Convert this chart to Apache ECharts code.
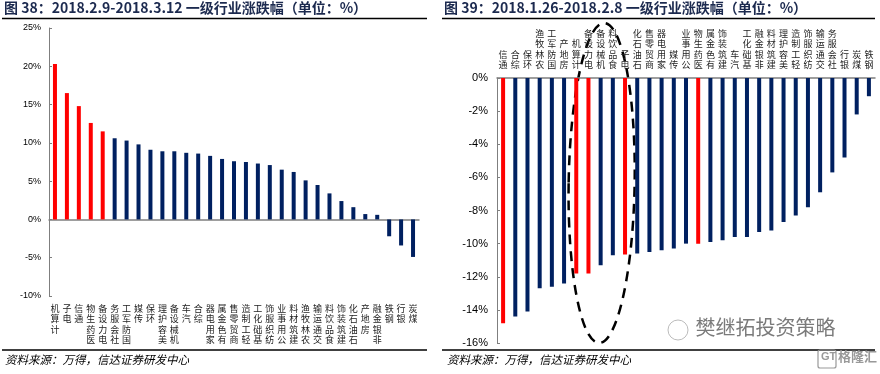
<!DOCTYPE html>
<html>
<head>
<meta charset="utf-8">
<script src="https://cdn.jsdelivr.net/npm/echarts@6/dist/echarts.min.js"></script>
<style>html,body{margin:0;padding:0;background:#fff;}#c{width:880px;height:374px;}</style>
</head>
<body>
<div id="c"></div>
<script>
// ---- data ----
const leftTitle = '图 38：2018.2.9-2018.3.12 一级行业涨跌幅（单位：%）';
const rightTitle = '图 39：2018.1.26-2018.2.8 一级行业涨跌幅（单位：%）';
const sourceText = '资料来源：万得，信达证券研发中心';

const leftCats = ['计算机','电子','通信','医药生物','电力设备','社会服务','国防军工','传媒','环保','美容护理','机械设备','汽车','综合','家用电器','有色金属','商贸零售','轻工制造','基础化工','纺织服饰','公用事业','建筑材料','农林牧渔','交通运输','食品饮料','建筑装饰','石油石化','房地产','非银金融','钢铁','银行','煤炭'];
const leftVals = [20.3,16.5,14.8,12.6,11.5,10.6,10.3,9.8,9.1,8.9,8.9,8.7,8.6,8.3,7.9,7.6,7.5,7.3,7.1,6.5,6.2,5.1,4.5,3.4,2.4,1.6,0.7,0.6,-2.2,-3.4,-4.9];

const rightCats = ['通信','综合','环保','农林牧渔','国防军工','房地产','计算机','电力设备','机械设备','食品饮料','电子','石油石化','商贸零售','家用电器','传媒','公用事业','医药生物','有色金属','建筑装饰','汽车','基础化工','非银金融','建筑材料','美容护理','轻工制造','纺织服饰','交通运输','社会服务','银行','煤炭','钢铁'];
const rightVals = [-14.8,-14.4,-14.1,-12.7,-12.6,-12.4,-11.8,-11.8,-11.3,-10.7,-10.65,-10.6,-10.5,-10.4,-10.3,-10.0,-10.0,-9.9,-9.8,-9.6,-9.6,-9.3,-9.2,-8.7,-8.3,-7.8,-6.9,-5.7,-4.8,-2.2,-1.1];

const highlight = ['计算机','电子','通信','医药生物','电力设备'];
const leftTicks = {min:-10, max:25, interval:5};
const rightTicks = {min:-16, max:0, interval:2};

// ---- chart ----
const RED = '#FF0000', NAVY = '#002060';
const vert = v => v.split('').reverse().join('\n');
const CJK = '"Noto Sans CJK SC", sans-serif';

function barData(cats, vals){
  return vals.map((v,i)=>({value:v, itemStyle:{color: highlight.indexOf(cats[i])>=0 ? RED : NAVY}}));
}

const chart = echarts.init(document.getElementById('c'));
const option = {
  animation:false,
  grid:[
    {left:49, right:461, top:28, bottom:78},
    {left:497, right:5, top:78, bottom:31}
  ],
  xAxis:[
    {gridIndex:0, type:'category', data:leftCats, axisLine:{onZero:true, lineStyle:{color:'#7f7f7f', width:1.5}}, axisTick:{show:false}, axisLabel:{show:false}},
    {gridIndex:0, type:'category', data:leftCats, position:'bottom', axisLine:{show:false, onZero:false}, axisTick:{show:false},
      axisLabel:{interval:0, margin:7, formatter:vert, fontFamily:CJK, fontSize:9, lineHeight:10.5, color:'#222', verticalAlign:'top'}},
    {gridIndex:1, type:'category', data:rightCats, position:'top', axisLine:{onZero:false, lineStyle:{color:'#7f7f7f', width:1.5}}, axisTick:{show:false},
      axisLabel:{interval:0, margin:8, formatter:vert, fontFamily:CJK, fontSize:9, lineHeight:10.5, color:'#222', verticalAlign:'bottom'}}
  ],
  yAxis:[
    {gridIndex:0, type:'value', min:leftTicks.min, max:leftTicks.max, interval:leftTicks.interval,
      axisLine:{show:true, lineStyle:{color:'#7f7f7f'}}, axisTick:{show:true, inside:true, length:3, lineStyle:{color:'#7f7f7f'}},
      splitLine:{show:false}, axisLabel:{formatter:'{value}%', fontFamily:'"Liberation Sans", Arial', fontSize:9, color:'#000', margin:8}},
    {gridIndex:1, type:'value', min:rightTicks.min, max:rightTicks.max, interval:rightTicks.interval,
      axisLine:{show:true, lineStyle:{color:'#7f7f7f'}}, axisTick:{show:true, inside:true, length:3, lineStyle:{color:'#7f7f7f'}},
      splitLine:{show:false}, axisLabel:{formatter:'{value}%', fontFamily:'"Liberation Sans", Arial', fontSize:11, color:'#000', margin:9}}
  ],
  series:[
    {type:'bar', xAxisIndex:0, yAxisIndex:0, data:barData(leftCats,leftVals), barWidth:4},
    {type:'bar', xAxisIndex:2, yAxisIndex:1, data:barData(rightCats,rightVals), barWidth:4}
  ]
};
chart.setOption(option);

// annotations
const topC = chart.convertToPixel({xAxisIndex:2, yAxisIndex:1}, [8, 0]);
const ell = {cx: topC[0] + 1, cy: 183, rx: 33, ry: 160};
const g = [
  {type:'text', left:4, top:1, style:{text:leftTitle, font:'bold 14px "Noto Sans CJK SC", sans-serif', fill:'#1c2a4f'}},
  {type:'text', left:444, top:1, style:{text:rightTitle, font:'bold 14px "Noto Sans CJK SC", sans-serif', fill:'#1c2a4f'}},
  {type:'line', shape:{x1:2, y1:18.5, x2:427, y2:18.5}, style:{stroke:'#000', lineWidth:1.5}},
  {type:'line', shape:{x1:442, y1:18.5, x2:875, y2:18.5}, style:{stroke:'#000', lineWidth:1.5}},
  {type:'line', shape:{x1:2, y1:350, x2:427, y2:350}, style:{stroke:'#000', lineWidth:1.5}},
  {type:'line', shape:{x1:442, y1:350, x2:875, y2:350}, style:{stroke:'#000', lineWidth:1.5}},
  {type:'text', left:5, top:354, style:{text:sourceText, font:'italic 11.5px "Noto Sans CJK SC", sans-serif', fill:'#000'}},
  {type:'text', left:447, top:354, style:{text:sourceText, font:'italic 11.5px "Noto Sans CJK SC", sans-serif', fill:'#000'}},
  {type:'ellipse', shape:{cx:0, cy:0, rx:ell.rx, ry:ell.ry}, x:ell.cx, y:ell.cy, rotation:-0.016,
    style:{fill:'none', stroke:'#000', lineWidth:2.5, lineDash:[10,7]}},
  {type:'circle', shape:{cx:678, cy:330, r:10}, style:{fill:'none', stroke:'#bbb', lineWidth:1}},
  {type:'text', left:695, top:317, style:{text:'樊继拓投资策略', font:'20px "Noto Sans CJK SC", sans-serif', fill:'#7a7a7a', stroke:'#fff', lineWidth:1}},
  {type:'rect', shape:{x:818, y:350, width:18, height:18, r:2}, style:{fill:'none', stroke:'#999', lineWidth:1.2}},
  {type:'text', left:821, top:351, style:{text:'GT', font:'bold 11px "Liberation Sans", Arial', fill:'#999'}},
  {type:'text', left:838, top:350, style:{text:'格隆汇', font:'bold 13px "Noto Sans CJK SC", sans-serif', fill:'#999'}}
];
chart.setOption({graphic:g});
</script>
</body>
</html>
